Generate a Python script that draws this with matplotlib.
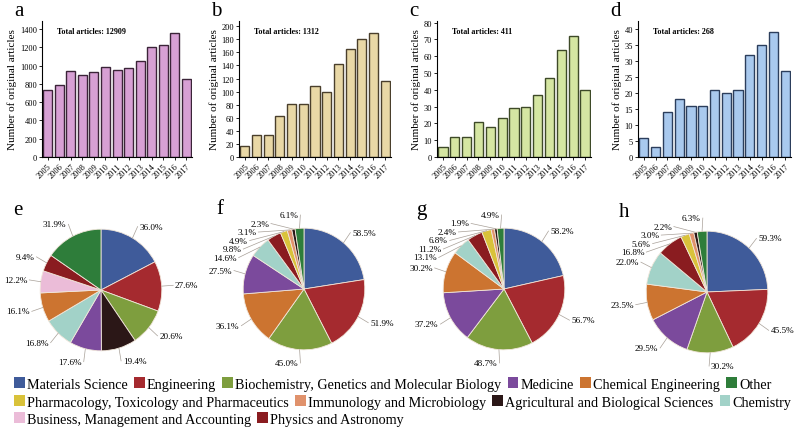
import numpy as np
import matplotlib
matplotlib.use("Agg")
import matplotlib.pyplot as plt
from matplotlib.patches import Patch

plt.rcParams['font.family'] = ['Liberation Serif', 'DejaVu Serif']

# =========================
# DATA
# =========================

years = [str(y) for y in range(2005, 2018)]

counts_a = [730, 790, 940, 900, 930, 985, 955, 980, 1050, 1205, 1230, 1360, 860]
counts_b = [17, 33, 34, 63, 81, 81, 109, 99, 143, 165, 181, 189, 117]
counts_c = [6, 12, 12, 21, 18, 23, 29, 30, 37, 47, 64, 72, 40]
counts_d = [6, 3, 14, 18, 16, 16, 21, 20, 21, 32, 35, 39, 27]

totals = [12909, 1312, 411, 268]

categories = [
    "Materials Science", "Engineering",
    "Biochemistry, Genetics and Molecular Biology", "Medicine",
    "Chemical Engineering", "Other",
    "Pharmacology, Toxicology and Pharmaceutics",
    "Immunology and Microbiology", "Agricultural and Biological Sciences",
    "Chemistry", "Business, Management and Accounting", "Physics and Astronomy",
]
category_colors = [
    "#3F5B9A", "#A52A2F", "#7E9E3E", "#7B4A9C", "#CC7430", "#2E7D3A",
    "#D9C23A", "#E0926C", "#2B1717", "#A2D2C8", "#EBBCD8", "#8A1C20",
]
legend_rows = [categories[0:6], categories[6:10], categories[10:12]]

pie_e_names = ["Materials Science", "Engineering",
               "Biochemistry, Genetics and Molecular Biology",
               "Agricultural and Biological Sciences", "Medicine", "Chemistry",
               "Chemical Engineering", "Business, Management and Accounting",
               "Physics and Astronomy", "Other"]
pie_e_values = [36.0, 27.6, 20.6, 19.4, 17.6, 16.8, 16.1, 12.2, 9.4, 31.9]

pie_f_names = ["Materials Science", "Engineering",
               "Biochemistry, Genetics and Molecular Biology",
               "Chemical Engineering", "Medicine", "Chemistry",
               "Physics and Astronomy",
               "Pharmacology, Toxicology and Pharmaceutics",
               "Immunology and Microbiology",
               "Agricultural and Biological Sciences", "Other"]
pie_f_values = [58.5, 51.9, 45.0, 36.1, 27.5, 14.6, 9.8, 4.9, 3.1, 2.3, 6.1]

pie_g_names = ["Materials Science", "Engineering",
               "Biochemistry, Genetics and Molecular Biology",
               "Medicine", "Chemical Engineering", "Chemistry",
               "Physics and Astronomy",
               "Pharmacology, Toxicology and Pharmaceutics",
               "Immunology and Microbiology",
               "Agricultural and Biological Sciences", "Other"]
pie_g_values = [58.2, 56.7, 48.7, 37.2, 30.2, 13.1, 11.2, 6.8, 2.4, 1.9, 4.9]

pie_h_names = ["Materials Science", "Engineering",
               "Biochemistry, Genetics and Molecular Biology",
               "Medicine", "Chemical Engineering", "Chemistry",
               "Physics and Astronomy",
               "Pharmacology, Toxicology and Pharmaceutics",
               "Immunology and Microbiology",
               "Agricultural and Biological Sciences", "Other"]
pie_h_values = [59.3, 45.5, 30.2, 29.5, 23.5, 22.0, 16.8, 5.6, 3.0, 2.2, 6.3]


def color_of(name):
    return category_colors[categories.index(name)]


# =========================
# FIGURE
# =========================

W, H = 800, 435
fig = plt.figure(figsize=(8, 4.35), dpi=100)


def px_axes(left, top, width, height):
    return fig.add_axes([left / W, 1 - (top + height) / H, width / W, height / H])


def bar_panel(left, right, counts, ymax, step, face, edge, letter, total):
    ax = px_axes(left, 22, right - left, 136)
    x = np.arange(len(counts))
    ax.bar(x, counts, width=0.78, color=face, edgecolor=edge, linewidth=1.0)
    ax.set_xlim(-0.5, len(counts) - 0.5)
    ax.set_ylim(0, ymax)
    ax.set_yticks(np.arange(0, ymax + 0.01, step))
    ax.set_xticks(x)
    ax.set_xticklabels(years, rotation=45, ha="right", rotation_mode="anchor")
    ax.tick_params(labelsize=6, length=2, width=0.6, pad=1.5)
    for s in ["top", "right"]:
        ax.spines[s].set_visible(False)
    for s in ["left", "bottom"]:
        ax.spines[s].set_linewidth(0.8)
    ax.set_ylabel("Number of original articles", fontsize=8, labelpad=2)
    ax.text(0.1, 0.93, f"Total articles: {total}", transform=ax.transAxes,
            fontsize=5.8, fontweight="bold", va="center")
    fig.text((left - 28) / W, 1 - 11 / H, letter, fontsize=15, va="center")
    return ax


bar_panel(42, 192, counts_a, 1490, 200, "#D7A0D4", "#3B2438", "a", totals[0])
bar_panel(239, 391, counts_b, 208, 20, "#E9D8A6", "#4A3F2C", "b", totals[1])
bar_panel(437, 591, counts_c, 81, 10, "#D5E6A2", "#3E4A28", "c", totals[2])
bar_panel(638, 791, counts_d, 42.5, 5, "#A9C9EE", "#2C3E5C", "d", totals[3])


# =========================
# PIES
# =========================

def label_positions(values, r=1.22, gap=0.14):
    total = float(sum(values))
    cum = np.cumsum(values) - np.array(values) / 2.0
    theta = np.radians(90 - cum / total * 360.0)
    xs = r * np.cos(theta)
    ys = r * np.sin(theta)
    out_x = xs.copy()
    out_y = ys.copy()
    for side in (1, -1):
        idx = [i for i in range(len(values)) if np.sign(xs[i] + 1e-9) == side]
        idx.sort(key=lambda i: -ys[i])
        prev = None
        for i in idx:
            y = ys[i]
            if prev is not None and y > prev - gap:
                y = prev - gap
                out_x[i] = side * np.sqrt(max(r * r - y * y, 0.0))
            out_y[i] = y
            prev = y
    return theta, out_x, out_y


def pie_panel(cx, cy, names, values, letter):
    size = 180
    ax = px_axes(cx - size / 2, cy - size / 2, size, size)
    ax.pie(values, colors=[color_of(n) for n in names], startangle=90,
           counterclock=False, radius=1.0,
           wedgeprops=dict(edgecolor="#F1E6DA", linewidth=0.6))
    ax.set_xlim(-1.48, 1.48)
    ax.set_ylim(-1.48, 1.48)
    ax.set_aspect("equal")
    ax.axis("off")

    theta, lx, ly = label_positions(values)
    for v, t, x, y in zip(values, theta, lx, ly):
        side = 1 if x >= 0 else -1
        ax.plot([np.cos(t), x - side * 0.03], [np.sin(t), y],
                color="#A8A098", linewidth=0.5, clip_on=False)
        ax.text(x, y, f"{v:.1f}%", fontsize=6.6,
                ha="left" if side > 0 else "right", va="center")

    fig.text((cx - 88) / W, 1 - (cy - 80) / H, letter, fontsize=15, va="center")


pie_panel(101, 291, pie_e_names, pie_e_values, "e")
pie_panel(304, 290, pie_f_names, pie_f_values, "f")
pie_panel(504, 290, pie_g_names, pie_g_values, "g")
pie_panel(707, 293, pie_h_names, pie_h_values, "h")


# =========================
# LEGEND
# =========================

row_y = [385, 403, 420]
for row, y in zip(legend_rows, row_y):
    handles = [Patch(facecolor=color_of(n), edgecolor="none") for n in row]
    fig.legend(handles, row, ncol=len(row), loc="center left",
               bbox_to_anchor=(14 / W, 1 - y / H), frameon=False,
               fontsize=10.2, handlelength=0.75, handleheight=0.75,
               handletextpad=0.15, columnspacing=0.45,
               borderpad=0, borderaxespad=0)

fig.savefig("out.png", dpi=100)
